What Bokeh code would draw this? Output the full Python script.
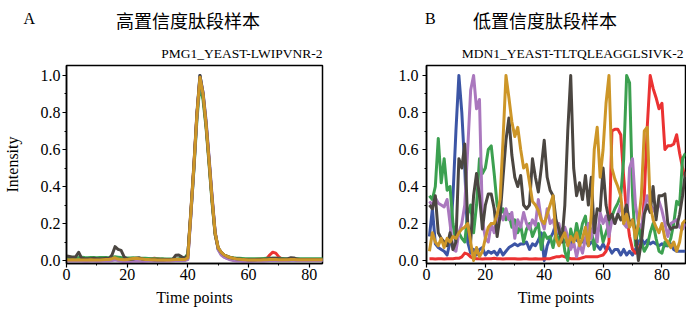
from bokeh.plotting import figure
from bokeh.models import Label, SingleIntervalTicker, PrintfTickFormatter, Range1d
from bokeh.layouts import row, column
from bokeh.embed import file_html
from bokeh.resources import INLINE

# ---------------- data: panel A (high confidence) ----------------
time_a = list(range(0, 86))
gray_a = [0.025, 0.022, 0.018, 0.02, 0.045, 0.012, 0.01, 0.01, 0.01, 0.012,
          0.01, 0.01, 0.01, 0.012, 0.01, 0.03, 0.075, 0.06, 0.055, 0.02,
          0.008, 0.006, 0.008, 0.012, 0.015, 0.008, 0.006, 0.005, 0.005, 0.004,
          0.005, 0.004, 0.004, 0.005, 0.005, 0.006, 0.028, 0.03, 0.02, 0.012,
          0.03, 0.27, 0.52, 0.80, 1.00, 0.90, 0.74, 0.54, 0.33, 0.15,
          0.07, 0.045, 0.03, 0.022, 0.016, 0.012, 0.01, 0.008, 0.006, 0.005,
          0.004, 0.004, 0.004, 0.005, 0.006, 0.006, 0.008, 0.01, 0.012, 0.012,
          0.01, 0.008, 0.008, 0.01, 0.015, 0.014, 0.008, 0.006, 0.006, 0.005,
          0.005, 0.005, 0.005, 0.005, 0.005, 0.005]
red_a = [0.02, 0.018, 0.012, 0.01, 0.008, 0.008, 0.007, 0.008, 0.008, 0.007,
         0.008, 0.008, 0.007, 0.008, 0.008, 0.01, 0.012, 0.01, 0.01, 0.009,
         0.008, 0.008, 0.009, 0.01, 0.01, 0.01, 0.01, 0.01, 0.01, 0.012,
         0.01, 0.008, 0.007, 0.006, 0.006, 0.006, 0.007, 0.008, 0.01, 0.012,
         0.025, 0.26, 0.51, 0.79, 0.98, 0.89, 0.73, 0.53, 0.32, 0.14,
         0.065, 0.04, 0.028, 0.02, 0.015, 0.012, 0.01, 0.008, 0.007, 0.006,
         0.006, 0.006, 0.006, 0.007, 0.008, 0.008, 0.01, 0.03, 0.045, 0.04,
         0.02, 0.008, 0.006, 0.006, 0.008, 0.008, 0.006, 0.005, 0.005, 0.005,
         0.005, 0.005, 0.005, 0.005, 0.005, 0.005]
green_a = [0.015, 0.016, 0.018, 0.015, 0.016, 0.018, 0.016, 0.015, 0.017, 0.016,
           0.015, 0.016, 0.017, 0.016, 0.015, 0.018, 0.02, 0.018, 0.016, 0.015,
           0.014, 0.014, 0.015, 0.014, 0.013, 0.012, 0.012, 0.011, 0.01, 0.01,
           0.01, 0.009, 0.009, 0.008, 0.008, 0.008, 0.009, 0.01, 0.012, 0.015,
           0.035, 0.25, 0.49, 0.76, 0.95, 0.87, 0.72, 0.52, 0.31, 0.14,
           0.065, 0.042, 0.03, 0.022, 0.018, 0.015, 0.013, 0.012, 0.011, 0.01,
           0.01, 0.01, 0.01, 0.01, 0.01, 0.011, 0.012, 0.012, 0.012, 0.012,
           0.012, 0.011, 0.01, 0.01, 0.01, 0.01, 0.01, 0.01, 0.01, 0.01,
           0.01, 0.01, 0.01, 0.01, 0.01, 0.01]
blue_a = [0.004, 0.003, 0.003, 0.002, 0.003, 0.002, 0.002, 0.002, 0.003, 0.002,
          0.002, 0.002, 0.003, 0.002, 0.002, 0.004, 0.006, 0.004, 0.003, 0.002,
          0.002, 0.002, 0.003, 0.004, 0.004, 0.003, 0.002, 0.002, 0.002, 0.002,
          0.002, 0.002, 0.001, 0.001, 0.001, 0.002, 0.003, 0.004, 0.003, 0.003,
          0.01, 0.25, 0.50, 0.78, 1.00, 0.91, 0.75, 0.55, 0.34, 0.15,
          0.06, 0.035, 0.02, 0.012, 0.008, 0.005, 0.003, 0.002, 0.001, 0.0,
          0.0, 0.0, 0.0, 0.001, 0.001, 0.002, 0.002, 0.003, 0.003, 0.003,
          0.002, 0.002, 0.002, 0.002, 0.003, 0.003, 0.002, 0.002, 0.002, 0.002,
          0.002, 0.002, 0.002, 0.002, 0.002, 0.002]
purple_a = [0.0, -0.002, -0.003, -0.003, -0.002, -0.003, -0.004, -0.004, -0.003, -0.003,
            -0.004, -0.004, -0.003, -0.003, -0.002, 0.0, 0.004, 0.0, -0.004, -0.006,
            -0.006, -0.005, -0.004, -0.003, -0.004, -0.005, -0.004, -0.003, -0.002, -0.002,
            -0.002, -0.002, -0.002, -0.002, -0.002, -0.001, 0.0, 0.001, 0.0, 0.0,
            0.005, 0.24, 0.50, 0.78, 0.99, 0.91, 0.76, 0.56, 0.35, 0.16,
            0.06, 0.03, 0.018, 0.01, 0.004, 0.0, -0.002, -0.003, -0.004, -0.004,
            -0.004, -0.004, -0.003, -0.003, -0.002, -0.002, -0.001, 0.0, 0.0, 0.0,
            0.0, 0.0, 0.0, 0.0, 0.001, 0.001, 0.0, 0.0, 0.0, 0.0,
            0.0, 0.0, 0.0, 0.0, 0.0, 0.0]
gold_a = [0.004, 0.003, 0.004, 0.003, 0.004, 0.003, 0.003, 0.003, 0.004, 0.003,
          0.003, 0.003, 0.004, 0.005, 0.006, 0.01, 0.015, 0.008, 0.005, 0.004,
          0.005, 0.008, 0.011, 0.012, 0.01, 0.008, 0.006, 0.005, 0.004, 0.004,
          0.003, 0.003, 0.003, 0.003, 0.003, 0.004, 0.005, 0.006, 0.005, 0.005,
          0.015, 0.26, 0.51, 0.79, 0.99, 0.90, 0.74, 0.54, 0.33, 0.15,
          0.07, 0.045, 0.03, 0.022, 0.016, 0.012, 0.009, 0.007, 0.005, 0.004,
          0.003, 0.003, 0.003, 0.003, 0.003, 0.004, 0.004, 0.005, 0.005, 0.005,
          0.004, 0.004, 0.004, 0.004, 0.005, 0.005, 0.004, 0.004, 0.004, 0.004,
          0.004, 0.004, 0.004, 0.004, 0.004, 0.004]

# ---------------- data: panel B (low confidence) ----------------
time_b = list(range(1, 89))
blue_b = [0.13, 0.28, 0.09, 0.07, 0.06, 0.05, 0.03, 0.10, 0.35, 0.70,
          1.00, 0.80, 0.50, 0.10, 0.04, 0.06, 0.03, 0.06, 0.07, 0.03,
          0.05, 0.04, 0.05, 0.03, 0.06, 0.03, 0.05, 0.07, 0.08, 0.09,
          0.08, 0.09, 0.09, 0.10, 0.06, 0.09, 0.08, 0.11, 0.15, 0.00,
          0.08, 0.12, 0.15, 0.20, 0.15, 0.12, 0.10, 0.12, 0.08, 0.13,
          0.11, 0.10, 0.10, 0.12, 0.08, 0.10, 0.09, 0.08, 0.06, 0.09,
          0.06, 0.07, 0.04, 0.06, 0.06, 0.03, 0.06, 0.03, 0.05, 0.03,
          0.06, 0.10, 0.12, 0.09, 0.11, 0.09, 0.10, 0.09, 0.08, 0.09,
          0.08, 0.08, 0.09, 0.06, 0.05, 0.05, 0.05, 0.05]
red_b = [0.01, 0.01, 0.008, 0.01, 0.01, 0.008, 0.01, 0.01, 0.01, 0.012,
         0.012, 0.02, 0.04, 0.035, 0.02, 0.012, 0.01, 0.01, 0.008, 0.01,
         0.01, 0.01, 0.012, 0.01, 0.01, 0.008, 0.01, 0.01, 0.01, 0.01,
         0.008, 0.008, 0.01, 0.01, 0.008, 0.008, 0.01, 0.008, 0.008, 0.01,
         0.01, 0.01, 0.015, 0.02, 0.02, 0.025, 0.02, 0.015, 0.01, 0.01,
         0.01, 0.01, 0.015, 0.02, 0.02, 0.02, 0.02, 0.02, 0.025, 0.03,
         0.05, 0.10, 0.70, 0.71, 0.71, 0.68, 0.45, 0.25, 0.13, 0.06,
         0.04, 0.05, 0.10, 0.35, 0.72, 1.00, 0.93, 0.88, 0.82, 0.85,
         0.60, 0.62, 0.62, 0.63, 0.68, 0.58, 0.50, 0.45]
green_b = [0.35, 0.33, 0.40, 0.66, 0.42, 0.55, 0.38, 0.40, 0.20, 0.10,
           0.15, 0.12, 0.10, 0.25, 0.30, 0.15, 0.30, 0.55, 0.47, 0.50,
           0.60, 0.62, 0.47, 0.30, 0.25, 0.28, 0.22, 0.25, 0.18, 0.22,
           0.15, 0.19, 0.10, 0.17, 0.20, 0.13, 0.17, 0.20, 0.06, 0.15,
           0.12, 0.13, 0.07, 0.15, 0.10, 0.17, 0.05, 0.00, 0.17, 0.10,
           0.20, 0.12, 0.20, 0.24, 0.10, 0.17, 0.06, 0.15, 0.19, 0.10,
           0.15, 0.20, 0.24, 0.28, 0.31, 0.35, 0.55, 1.00, 0.96, 0.35,
           0.08, 0.20, 0.10, 0.05, 0.08, 0.15, 0.20, 0.12, 0.05, 0.04,
           0.10, 0.08, 0.12, 0.20, 0.32, 0.30, 0.55, 0.58]
purple_b = [0.32, 0.30, 0.34, 0.31, 0.30, 0.29, 0.33, 0.20, 0.06, 0.05,
            0.15, 0.20, 0.30, 0.60, 0.92, 1.00, 0.82, 0.87, 0.22, 0.12,
            0.10, 0.20, 0.15, 0.22, 0.25, 0.22, 0.28, 0.22, 0.26, 0.12,
            0.22, 0.18, 0.26, 0.20, 0.17, 0.22, 0.19, 0.33, 0.22, 0.17,
            0.28, 0.20, 0.22, 0.15, 0.20, 0.12, 0.18, 0.13, 0.06, 0.10,
            0.02, 0.09, 0.04, 0.12, 0.20, 0.12, 0.22, 0.10, 0.26, 0.20,
            0.24, 0.13, 0.22, 0.20, 0.25, 0.30, 0.20, 0.18, 0.50, 0.55,
            0.30, 0.20, 0.18, 0.27, 0.35, 0.30, 0.28, 0.25, 0.32, 0.27,
            0.20, 0.13, 0.20, 0.21, 0.22, 0.18, 0.17, 0.20]
gray_b = [0.30, 0.28, 0.35, 0.15, 0.12, 0.10, 0.08, 0.15, 0.06, 0.10,
          0.55, 0.50, 0.63, 0.20, 0.10, 0.35, 0.47, 0.35, 0.17, 0.30,
          0.36, 0.36, 0.28, 0.13, 0.24, 0.45, 0.65, 0.77, 0.57, 0.45,
          0.40, 0.46, 0.30, 0.28, 0.30, 0.55, 0.45, 0.37, 0.50, 0.65,
          0.45, 0.38, 0.35, 0.22, 0.17, 0.10, 0.30, 0.70, 1.00, 0.50,
          0.35, 0.42, 0.33, 0.46, 0.30, 0.45, 0.15, 0.28, 0.27, 0.50,
          0.30, 0.22, 0.25, 0.20, 0.25, 0.22, 0.25, 0.30, 0.20, 0.22,
          0.15, 0.00, 0.10, 0.25, 0.30, 0.26, 0.40, 0.22, 0.35, 0.35,
          0.36, 0.20, 0.17, 0.18, 0.18, 0.25, 0.35, 0.48]
gold_b = [0.05, 0.15, 0.10, 0.08, 0.12, 0.07, 0.12, 0.10, 0.13, 0.12,
          0.15, 0.17, 0.18, 0.20, 0.10, 0.00, 0.07, 0.02, 0.05, 0.12,
          0.18, 0.20, 0.20, 0.25, 0.33, 0.65, 1.00, 0.88, 0.75, 0.67,
          0.72, 0.60, 0.50, 0.52, 0.42, 0.32, 0.30, 0.27, 0.22, 0.20,
          0.25, 0.30, 0.35, 0.12, 0.08, 0.12, 0.15, 0.08, 0.13, 0.10,
          0.15, 0.08, 0.12, 0.18, 0.08, 0.25, 0.60, 0.72, 0.45, 0.60,
          0.85, 1.00, 0.50, 0.44, 0.40, 0.35, 0.20, 0.25, 0.18, 0.22,
          0.12, 0.20, 0.35, 0.70, 0.72, 0.30, 0.22, 0.18, 0.15, 0.20,
          0.12, 0.10, 0.07, 0.10, 0.05, 0.10, 0.20, 0.22]

titles = ["高置信度肽段样本", "低置信度肽段样本"]
subtitles = ["PMG1_YEAST-LWIPVNR-2", "MDN1_YEAST-TLTQLEAGGLSIVK-2"]
letters = ["A", "B"]

colors = {"blue": "#3c55a5", "red": "#eb3232", "green": "#3ca050",
          "purple": "#aa78be", "gray": "#4b4641", "gold": "#cd9628"}

SERIF = "Liberation Serif"
CJK = "Noto Sans CJK SC"
W, H = 686, 311
HEAD_H = 63


def style(p, ylabel):
    p.xgrid.visible = False
    p.ygrid.visible = False
    p.outline_line_color = "black"
    p.outline_line_width = 1.5
    p.background_fill_color = "white"
    p.border_fill_color = "white"
    for ax in (p.xaxis[0], p.yaxis[0]):
        ax.axis_line_color = "black"
        ax.axis_line_width = 1.5
        ax.major_tick_line_color = "black"
        ax.minor_tick_line_color = "black"
        ax.major_tick_line_width = 1.2
        ax.minor_tick_line_width = 1.0
        ax.major_tick_in = 0
        ax.major_tick_out = 4
        ax.minor_tick_in = 0
        ax.minor_tick_out = 2
        ax.major_label_text_font = SERIF
        ax.major_label_text_font_size = "16px"
        ax.major_label_text_color = "black"
        ax.axis_label_text_font = SERIF
        ax.axis_label_text_font_size = "16px"
        ax.axis_label_text_font_style = "normal"
        ax.axis_label_text_color = "black"
    p.xaxis[0].ticker = SingleIntervalTicker(interval=20, num_minor_ticks=2)
    p.yaxis[0].ticker = SingleIntervalTicker(interval=0.2, num_minor_ticks=2)
    p.yaxis[0].formatter = PrintfTickFormatter(format="%.1f")
    p.xaxis[0].axis_label = "Time points"
    p.xaxis[0].major_label_standoff = 1
    p.xaxis[0].axis_label_standoff = 6
    p.yaxis[0].major_label_standoff = 2
    if ylabel:
        p.yaxis[0].axis_label = ylabel
        p.yaxis[0].axis_label_standoff = 17


def draw(p, x, series):
    for name, ys in series:
        p.line(x, ys, line_color=colors[name], line_width=3, line_join="round")


YR = (-0.016, 1.054)

# ---------------- header (titles) ----------------
head = figure(width=W, height=HEAD_H, output_backend="svg", toolbar_location=None,
              x_range=Range1d(0, W), y_range=Range1d(HEAD_H, 0),
              x_axis_type=None, y_axis_type=None, min_border=0)
head.outline_line_color = None
head.xgrid.visible = False
head.ygrid.visible = False
head.background_fill_color = "white"
head.border_fill_color = "white"


def add_texts(letter, lx, title, tx, sub, sx):
    # positions in page pixels
    head.add_layout(Label(x=lx, y=18, text=letter, text_font=SERIF,
                          text_font_size="16px", text_color="black",
                          text_baseline="alphabetic", text_align="left"))
    head.add_layout(Label(x=tx, y=19.5, text=title, text_font=CJK,
                          text_font_size="18px", text_color="black",
                          text_baseline="middle", text_align="center"))
    head.add_layout(Label(x=sx, y=53, text=sub, text_font=SERIF,
                          text_font_size="13.5px", text_color="black",
                          text_baseline="alphabetic", text_align="right"))


add_texts(letters[0], 23, titles[0], 187.5, subtitles[0], 322)
add_texts(letters[1], 424.5, titles[1], 544.5, subtitles[1], 683)

# ---------------- panel A ----------------
XA = 84.4
pa = figure(width=343, height=H - HEAD_H, output_backend="svg", toolbar_location=None,
            x_range=Range1d(0, XA), y_range=Range1d(*YR))
pa.min_border_left = 63
pa.min_border_right = 21
pa.min_border_top = 2
pa.min_border_bottom = 48
style(pa, "Intensity")
draw(pa, time_a, [("blue", blue_a), ("red", red_a), ("green", green_a),
                  ("purple", purple_a), ("gray", gray_a), ("gold", gold_a)])

# ---------------- panel B ----------------
XB = 88
pb = figure(width=343, height=H - HEAD_H, output_backend="svg", toolbar_location=None,
            x_range=Range1d(0, XB), y_range=Range1d(*YR))
pb.min_border_left = 83
pb.min_border_right = 1
pb.min_border_top = 2
pb.min_border_bottom = 48
style(pb, None)
pb.yaxis[0].major_label_standoff = 4
draw(pb, time_b, [("blue", blue_b), ("red", red_b), ("green", green_b),
                  ("purple", purple_b), ("gray", gray_b), ("gold", gold_b)])

layout = column(head, row(pa, pb))
open("out.html", "w").write(file_html(layout, INLINE))
